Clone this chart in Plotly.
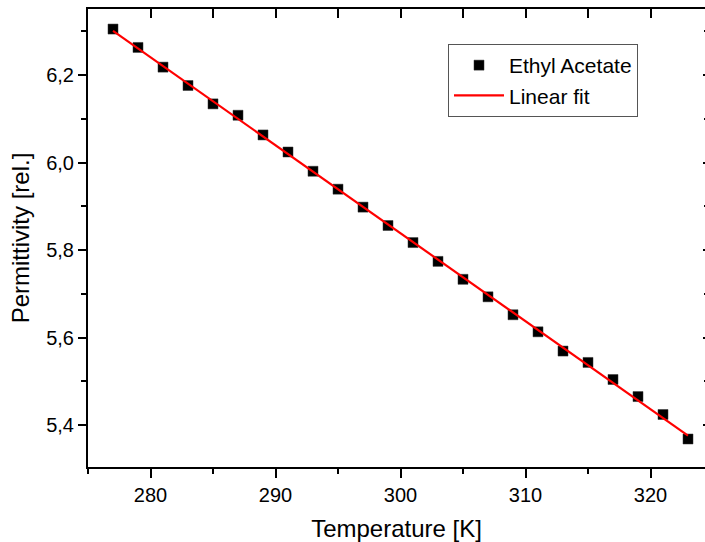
import numpy as np
import plotly.graph_objects as go

temperature = [277, 279, 281, 283, 285, 287, 289, 291, 293, 295, 297, 299,
               301, 303, 305, 307, 309, 311, 313, 315, 317, 319, 321, 323]
permittivity = [6.305, 6.263, 6.218, 6.176, 6.134, 6.108, 6.063, 6.024,
                5.980, 5.939, 5.898, 5.856, 5.817, 5.774, 5.733, 5.693,
                5.652, 5.613, 5.569, 5.543, 5.504, 5.465, 5.424, 5.368]
x_ticks = [280, 290, 300, 310, 320]
y_ticks = [5.4, 5.6, 5.8, 6.0, 6.2]

slope, intercept = np.polyfit(temperature, permittivity, 1)
fit_x = [temperature[0], temperature[-1]]
fit_y = [slope * t + intercept for t in fit_x]

FONT = "Arial, Liberation Sans, sans-serif"
W, H = 705, 542
L, R, T, B = 88, 0, 9, 75

xr = [275, 275 + (W - L - R) / 12.5]
ytop = 6.2 + (75 - T) / 437.5
ybot = 5.4 - ((H - B) - 425) / 437.5
yr = [ybot, ytop]

fig = go.Figure()
fig.add_trace(go.Scatter(
    x=temperature, y=permittivity, mode="markers", name="Ethyl Acetate",
    marker=dict(symbol="square", size=10, color="black",
                line=dict(color="#333333", width=0.5))))
fig.add_trace(go.Scatter(
    x=fit_x, y=fit_y, mode="lines", name="Linear fit",
    line=dict(color="#ff0000", width=2.2)))

fig.update_layout(
    width=W, height=H, autosize=False,
    margin=dict(l=L, r=R, t=T, b=B, pad=0),
    paper_bgcolor="white", plot_bgcolor="white",
    separators=",.",
    font=dict(family=FONT, size=20, color="black"),
    showlegend=True,
    legend=dict(x=(448 - L) / (W - L - R), y=((H - B) - 44) / (H - B - T),
                xanchor="left", yanchor="top",
                bordercolor="#555555", borderwidth=1, bgcolor="white",
                font=dict(family=FONT, size=21, color="black"),
                itemwidth=50, tracegroupgap=0),
    xaxis=dict(range=xr, tickvals=x_ticks, ticks="outside", ticklen=9,
               tickwidth=1.5, tickcolor="black", showline=True, linewidth=2,
               linecolor="black", showgrid=False, zeroline=False,
               tickfont=dict(size=20),
               minor=dict(ticks="outside", tickvals=[275, 285, 295, 305, 315],
                          ticklen=5, tickwidth=1.5, tickcolor="black"),
               title=dict(text="Temperature [K]", font=dict(size=24), standoff=16)),
    yaxis=dict(range=yr, tickvals=y_ticks, tickformat=".1f", ticks="outside",
               ticklen=8, tickwidth=1.5, tickcolor="black", showline=True,
               linewidth=2, linecolor="black", showgrid=False, zeroline=False,
               tickfont=dict(size=20),
               minor=dict(ticks="outside", tickvals=[5.5, 5.7, 5.9, 6.1, 6.3],
                          ticklen=5, tickwidth=1.5, tickcolor="black"),
               title=dict(text="Permittivity [rel.]", font=dict(size=24), standoff=10)),
    xaxis2=dict(overlaying="x", side="top", range=xr, tickvals=x_ticks,
                ticks="inside", ticklen=9, tickwidth=1.5, tickcolor="black",
                showline=True, linewidth=2, linecolor="black",
                showticklabels=False, showgrid=False, zeroline=False,
                minor=dict(ticks="inside", tickvals=[275, 285, 295, 305, 315],
                           ticklen=9, tickwidth=1.5, tickcolor="black")),
    yaxis2=dict(overlaying="y", side="right", range=yr, tickvals=y_ticks,
                ticks="inside", ticklen=2, tickwidth=1.5, tickcolor="black",
                showline=False, showticklabels=False, showgrid=False,
                zeroline=False,
                minor=dict(ticks="inside", tickvals=[5.5, 5.7, 5.9, 6.1, 6.3],
                           ticklen=1, tickwidth=1.5, tickcolor="black")),
)
# invisible trace to activate the secondary (mirror) axes
fig.add_trace(go.Scatter(x=[xr[0]], y=[yr[0]], xaxis="x2", yaxis="y2",
                         mode="markers", marker=dict(opacity=0),
                         showlegend=False, hoverinfo="skip"))

fig.write_html("out.html")
